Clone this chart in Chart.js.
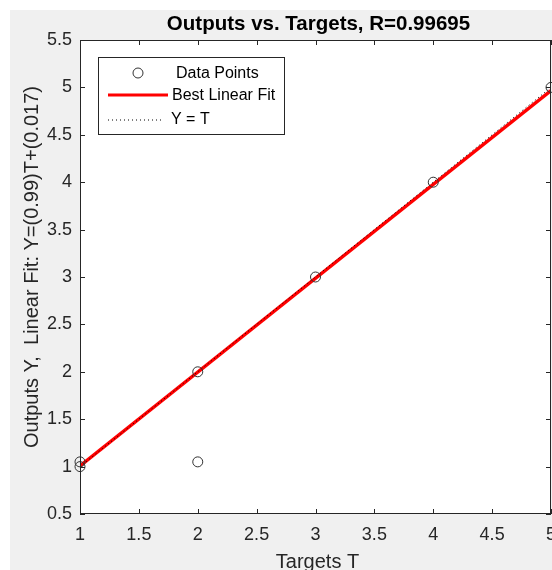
<!DOCTYPE html>
<html>
<head>
<meta charset="utf-8">
<script src="https://cdn.jsdelivr.net/npm/chart.js@4"></script>
<style>
  html, body { margin: 0; background: #fff; overflow: hidden; width: 552px; height: 570px; }
  #wrap { position: absolute; left: 10px; top: 10px; width: 547px; height: 560px; background: #f0f0f0; }
</style>
</head>
<body>
<div id="wrap"><canvas id="regChart"></canvas></div>
<script>
const targets = [1, 1, 2, 2, 3, 4, 5];
const outputs = [1.0, 1.05, 2.0, 1.05, 3.0, 4.0, 5.0];
const fitX = [1, 5];
const fitY = [1.007, 4.967];
const identX = [1, 5];
const identY = [1, 5];
const xTicks = [1, 1.5, 2, 2.5, 3, 3.5, 4, 4.5, 5];
const yTicks = [0.5, 1, 1.5, 2, 2.5, 3, 3.5, 4, 4.5, 5, 5.5];

const font = "'Liberation Sans', Arial, sans-serif";
const axisColor = "#262626";

function pairs(xs, ys) {
  return xs.map((x, i) => ({ x: x, y: ys[i] }));
}

// white plot area, box, inward ticks, titles and legend in MATLAB style
const matlabLook = {
  id: "matlabLook",
  beforeDatasetsDraw(chart) {
    const { ctx, chartArea: a } = chart;
    ctx.save();
    ctx.fillStyle = "#fff";
    ctx.fillRect(a.left, a.top, a.right - a.left, a.bottom - a.top);
    ctx.restore();
  },
  afterDraw(chart) {
    const { ctx, chartArea: a, scales } = chart;
    ctx.save();
    ctx.strokeStyle = axisColor;
    ctx.lineWidth = 1;
    ctx.strokeRect(a.left + 0.5, a.top + 0.5, a.right - a.left - 1, a.bottom - a.top - 1);
    const t = 5;
    ctx.beginPath();
    xTicks.forEach((v) => {
      const px = Math.round(scales.x.getPixelForValue(v)) + 0.5;
      ctx.moveTo(px, a.bottom); ctx.lineTo(px, a.bottom - t);
      ctx.moveTo(px, a.top); ctx.lineTo(px, a.top + t);
    });
    yTicks.forEach((v) => {
      const py = Math.round(scales.y.getPixelForValue(v)) + 0.5;
      ctx.moveTo(a.left, py); ctx.lineTo(a.left + t, py);
      ctx.moveTo(a.right, py); ctx.lineTo(a.right - t, py);
    });
    ctx.stroke();

    // title
    ctx.fillStyle = "#000";
    ctx.font = "bold 20.5px " + font;
    ctx.textAlign = "center";
    ctx.textBaseline = "alphabetic";
    ctx.fillText("Outputs vs. Targets, R=0.99695", (a.left + a.right) / 2 + 3, 20);

    // axis titles
    ctx.fillStyle = axisColor;
    ctx.font = "20px " + font;
    ctx.fillText("Targets T", (a.left + a.right) / 2 + 2, 558);
    ctx.save();
    ctx.translate(28, (a.top + a.bottom) / 2 - 10);
    ctx.rotate(-Math.PI / 2);
    ctx.fillText("Outputs Y,  Linear Fit: Y=(0.99)T+(0.017)", 0, 0);
    ctx.restore();

    // legend
    const lx = a.left + 18, ly = a.top + 17;
    ctx.fillStyle = "#fff";
    ctx.fillRect(lx, ly, 186, 77);
    ctx.strokeStyle = axisColor;
    ctx.strokeRect(lx + 0.5, ly + 0.5, 186, 77);
    ctx.font = "16px " + font;
    ctx.textAlign = "left";
    ctx.textBaseline = "middle";
    ctx.fillStyle = "#000";
    // data points
    ctx.beginPath();
    ctx.arc(lx + 40, ly + 16, 5, 0, Math.PI * 2);
    ctx.strokeStyle = "#333";
    ctx.stroke();
    ctx.fillText("Data Points", lx + 78, ly + 17);
    // fit
    ctx.beginPath();
    ctx.moveTo(lx + 10, ly + 38); ctx.lineTo(lx + 70, ly + 38);
    ctx.strokeStyle = "#ff0000";
    ctx.lineWidth = 3;
    ctx.stroke();
    ctx.fillText("Best Linear Fit", lx + 74, ly + 39);
    // identity
    ctx.beginPath();
    ctx.setLineDash([1, 3]);
    ctx.moveTo(lx + 10, ly + 63); ctx.lineTo(lx + 66, ly + 63);
    ctx.strokeStyle = "#000";
    ctx.lineWidth = 1;
    ctx.stroke();
    ctx.setLineDash([]);
    ctx.fillText("Y = T", lx + 73, ly + 63);
    ctx.restore();
  },
};

new Chart(document.getElementById("regChart"), {
  type: "scatter",
  data: {
    datasets: [
      {
        label: "Data Points",
        data: pairs(targets, outputs),
        showLine: false,
        pointRadius: 5,
        pointHoverRadius: 5,
        pointBorderWidth: 1,
        pointBorderColor: "#333",
        pointBackgroundColor: "rgba(0,0,0,0)",
        clip: false,
      },
      {
        label: "Y = T",
        data: pairs(identX, identY),
        showLine: true,
        borderColor: "#000",
        borderWidth: 1,
        borderDash: [1, 3],
        pointRadius: 0,
      },
      {
        label: "Best Linear Fit",
        data: pairs(fitX, fitY),
        showLine: true,
        borderColor: "#ff0000",
        borderWidth: 3.5,
        pointRadius: 0,
      },
    ],
  },
  options: {
    responsive: true,
    maintainAspectRatio: false,
    animation: false,
    layout: { padding: { top: 30, right: 0, left: 0, bottom: 0 } },
    plugins: {
      legend: { display: false },
      tooltip: { enabled: false },
      title: { display: false },
    },
    scales: {
      x: {
        type: "linear",
        min: 1,
        max: 5,
        afterBuildTicks: (s) => { s.ticks = xTicks.map((v) => ({ value: v })); },
        afterFit: (s) => { s.height = 56; s.paddingLeft = 0; s.paddingRight = 0; },
        grid: { display: false, drawTicks: false },
        border: { display: false },
        ticks: {
          padding: 10,
          color: axisColor,
          font: { family: font, size: 18 },
          maxRotation: 0,
          callback: (v) => String(v),
        },
      },
      y: {
        type: "linear",
        min: 0.5,
        max: 5.5,
        afterBuildTicks: (s) => { s.ticks = yTicks.map((v) => ({ value: v })); },
        afterFit: (s) => { s.width = 70; s.paddingTop = 0; s.paddingBottom = 0; },
        grid: { display: false, drawTicks: false },
        border: { display: false },
        ticks: {
          padding: 8,
          color: axisColor,
          font: { family: font, size: 18 },
          callback: (v) => String(v),
        },
      },
    },
  },
  plugins: [matlabLook],
});
</script>
</body>
</html>
